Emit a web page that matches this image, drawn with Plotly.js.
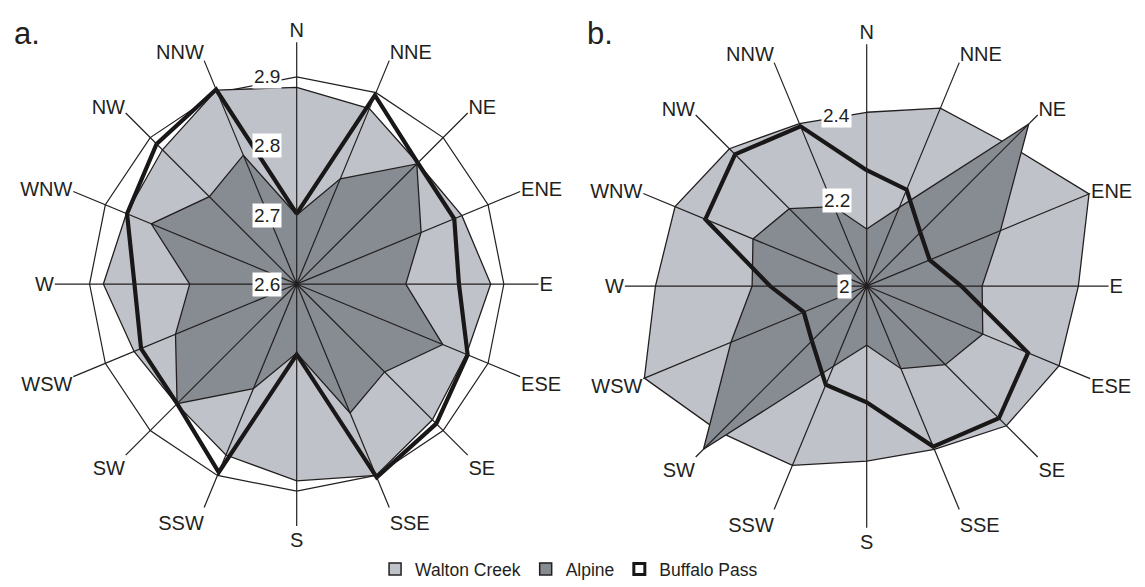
<!DOCTYPE html>
<html>
<head>
<meta charset="utf-8">
<script src="https://cdn.plot.ly/plotly-3.0.1.min.js"></script>
<style>
  html, body { margin: 0; padding: 0; background: #ffffff; }
  #chart { width: 1145px; height: 587px; }
</style>
</head>
<body>
<div id="chart"></div>
<script>
// ---------------- data ----------------
const directions = ['N','NNE','NE','ENE','E','ESE','SE','SSE','S','SSW','SW','WSW','W','WNW','NW','NNW'];

// panel a
const waltonA  = [2.885, 2.875, 2.848, 2.859, 2.881, 2.866, 2.878, 2.900, 2.885, 2.868, 2.846, 2.855, 2.880, 2.867, 2.875, 2.904];
const alpineA  = [2.700, 2.765, 2.846, 2.795, 2.758, 2.829, 2.780, 2.802, 2.700, 2.764, 2.845, 2.790, 2.755, 2.828, 2.779, 2.802];
const buffaloA = [2.702, 2.896, 2.848, 2.847, 2.835, 2.868, 2.886, 2.903, 2.702, 2.895, 2.845, 2.844, 2.835, 2.866, 2.887, 2.905];
const ticksA   = [2.6, 2.7, 2.8, 2.9];
const tickTextA = ['2.6', '2.7', '2.8', '2.9'];
const outerRingA = [2.9];

// panel b
const waltonB  = [2.408, 2.452, 2.470, 2.565, 2.497, 2.489, 2.464, 2.415, 2.411, 2.456, 2.486, 2.565, 2.496, 2.487, 2.456, 2.413];
const alpineB  = [2.134, 2.200, 2.538, 2.340, 2.271, 2.295, 2.261, 2.210, 2.139, 2.204, 2.542, 2.345, 2.269, 2.289, 2.257, 2.202];
const buffaloB = [2.272, 2.245, 2.178, 2.160, 2.222, 2.410, 2.439, 2.408, 2.273, 2.251, 2.182, 2.160, 2.227, 2.410, 2.437, 2.406];
const ticksB   = [2, 2.2, 2.4];
const tickTextB = ['2', '2.2', '2.4'];

const seriesNames = ['Walton Creek', 'Alpine', 'Buffalo Pass'];
const panelLabels = ['a.', 'b.'];

// ---------------- styling ----------------
const W = 1145, H = 587;
const FONT = 'Liberation Sans, Arial, Helvetica, sans-serif';
const TXT = '#231f20';
const LIGHT = '#bfc3c9';
const DARK = '#878c92';
const EDGE = '#231f20';

const R = 244;
function squareDomain(cx, cy) {
  return { x: [(cx - R) / W, (cx + R) / W], y: [(H - cy - R) / H, (H - cy + R) / H] };
}
const domA = squareDomain(296.7, 286);
const domB = squareDomain(866.7, 288);
const rangeA = [2.6, 2.951];
const rangeB = [2.0, 2.569];

function closed(arr) { return arr.concat([arr[0]]); }
const thetaClosed = closed(directions);

function panelTraces(subplot, walton, alpine, buffalo) {
  return [
    { type: 'scatterpolar', subplot, name: seriesNames[0], r: closed(walton), theta: thetaClosed,
      mode: 'lines', fill: 'toself', fillcolor: LIGHT, line: { color: EDGE, width: 1.3 }, showlegend: false, hoverinfo: 'skip' },
    { type: 'scatterpolar', subplot, name: seriesNames[1], r: closed(alpine), theta: thetaClosed,
      mode: 'lines', fill: 'toself', fillcolor: DARK, line: { color: EDGE, width: 1.3 }, showlegend: false, hoverinfo: 'skip' },
    { type: 'scatterpolar', subplot, name: seriesNames[2], r: closed(buffalo), theta: thetaClosed,
      mode: 'lines', line: { color: '#1a1718', width: 4.2 }, showlegend: false, hoverinfo: 'skip' }
  ];
}

// legend-only entries (one null point each, nothing is drawn)
const legendTraces = [
  { type: 'scatterpolar', subplot: 'polar', name: seriesNames[0], r: [null], theta: [null], mode: 'markers',
    marker: { symbol: 'square', size: 12, color: LIGHT, line: { color: EDGE, width: 1.5 } } },
  { type: 'scatterpolar', subplot: 'polar', name: seriesNames[1], r: [null], theta: [null], mode: 'markers',
    marker: { symbol: 'square', size: 12, color: DARK, line: { color: EDGE, width: 1.5 } } },
  { type: 'scatterpolar', subplot: 'polar', name: seriesNames[2], r: [null], theta: [null], mode: 'markers',
    marker: { symbol: 'square', size: 11, color: '#ffffff', line: { color: '#1a1718', width: 3 } } }
];

const data = panelTraces('polar', waltonA, alpineA, buffaloA)
  .concat(panelTraces('polar2', waltonB, alpineB, buffaloB))
  .concat(legendTraces);

function polarLayout(dom, range, gridVals) {
  return {
    domain: dom,
    bgcolor: 'rgba(0,0,0,0)',
    gridshape: 'linear',
    layer: 'above traces',
    radialaxis: {
      range: range, showline: false, ticks: '', showticklabels: false,
      tickmode: 'array', tickvals: gridVals.length ? gridVals : [range[1] + 1],
      showgrid: gridVals.length > 0, gridcolor: EDGE, gridwidth: 1.2
    },
    angularaxis: {
      type: 'category', categoryorder: 'array', categoryarray: directions,
      direction: 'clockwise', rotation: 90,
      showline: false, showgrid: false,
      ticks: 'inside', ticklen: R, tickwidth: 1.2, tickcolor: EDGE,
      tickfont: { family: FONT, size: 20, color: TXT }
    }
  };
}

function radialLabels(dom, range, vals, texts) {
  const cx = (dom.x[0] + dom.x[1]) / 2 * W;
  const cy = H - (dom.y[0] + dom.y[1]) / 2 * H;
  const rpx = (dom.x[1] - dom.x[0]) * W / 2;
  return vals.map((v, i) => {
    const ypx = cy - (v - range[0]) / (range[1] - range[0]) * rpx;
    return {
      xref: 'paper', yref: 'paper', x: (cx - 15) / W, y: 1 - ypx / H,
      xanchor: 'right', yanchor: 'middle', showarrow: false,
      text: texts[i], bgcolor: '#ffffff', borderpad: 1,
      font: { family: FONT, size: 19, color: TXT }
    };
  });
}

const annotations = radialLabels(domA, rangeA, ticksA, tickTextA)
  .concat(radialLabels(domB, rangeB, ticksB, tickTextB))
  .concat([
    { xref: 'paper', yref: 'paper', x: 12 / W, y: 1 - 14 / H, xanchor: 'left', yanchor: 'top',
      showarrow: false, text: panelLabels[0], font: { family: FONT, size: 31, color: TXT } },
    { xref: 'paper', yref: 'paper', x: 585 / W, y: 1 - 14 / H, xanchor: 'left', yanchor: 'top',
      showarrow: false, text: panelLabels[1], font: { family: FONT, size: 31, color: TXT } }
  ]);

const layout = {
  width: W, height: H,
  margin: { l: 0, r: 0, t: 0, b: 0 },
  paper_bgcolor: '#ffffff',
  plot_bgcolor: '#ffffff',
  font: { family: FONT, color: TXT },
  showlegend: true,
  legend: {
    orientation: 'h', x: 0.497, xanchor: 'center', y: 14 / H, yanchor: 'middle',
    font: { family: FONT, size: 17.5, color: TXT }, itemwidth: 30, bgcolor: 'rgba(0,0,0,0)',
    tracegroupgap: 0, itemclick: false, itemdoubleclick: false
  },
  polar: polarLayout(domA, rangeA, outerRingA),
  polar2: polarLayout(domB, rangeB, []),
  annotations: annotations
};

Plotly.newPlot('chart', data, layout, { displayModeBar: false, staticPlot: true });
</script>
</body>
</html>
